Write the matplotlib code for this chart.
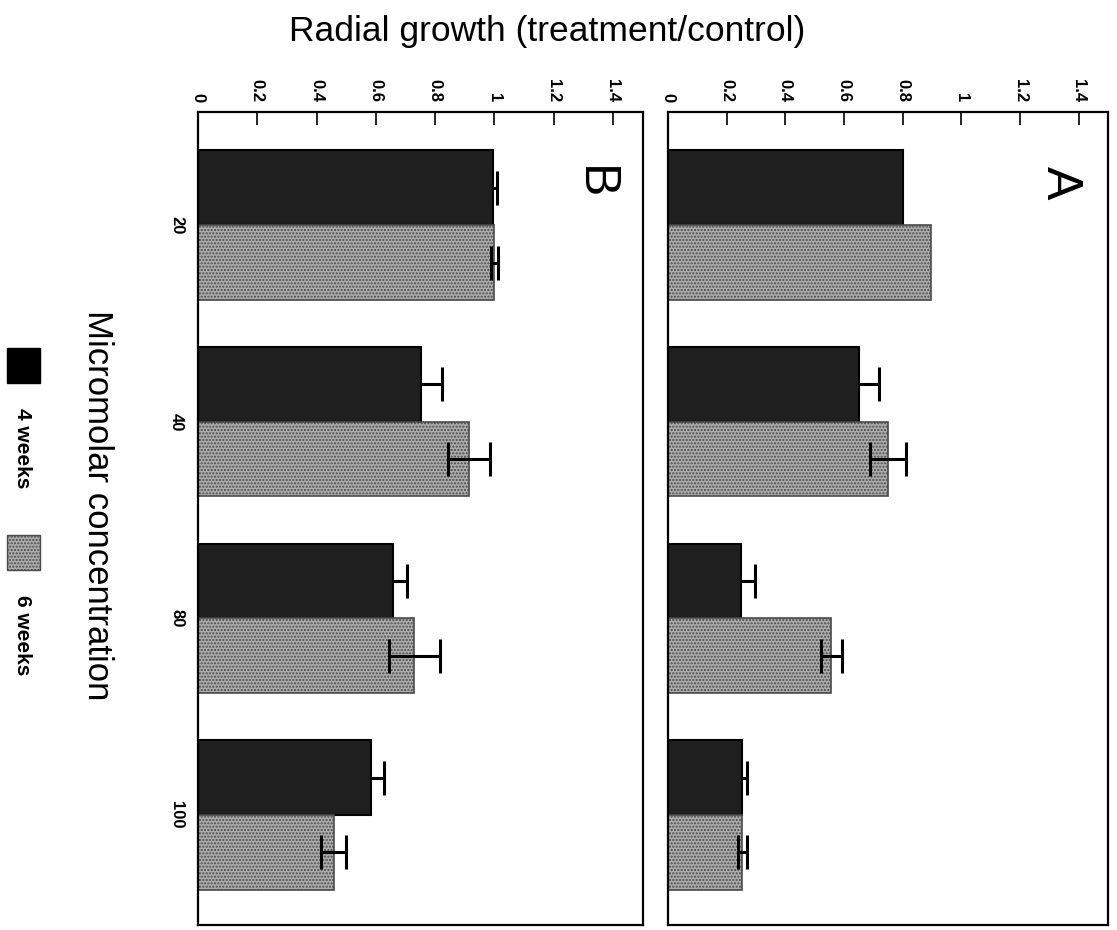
import numpy as np
import matplotlib
matplotlib.use("Agg")
import matplotlib.pyplot as plt
from matplotlib.patches import Rectangle

plt.rcParams['font.family'] = ['Liberation Sans', 'DejaVu Sans']

# concentrations (micromolar)
conc = ["20", "40", "80", "100"]

# panel A
a_4wk = [0.80, 0.652, 0.25, 0.254]
a_4wk_err = [0.0, 0.068, 0.048, 0.014]
a_6wk = [0.895, 0.75, 0.557, 0.254]
a_6wk_err = [0.0, 0.063, 0.036, 0.014]

# panel B
b_4wk = [0.994, 0.753, 0.658, 0.583]
b_4wk_err = [0.015, 0.069, 0.048, 0.043]
b_6wk = [1.0, 0.915, 0.73, 0.458]
b_6wk_err = [0.011, 0.07, 0.086, 0.042]

ticks = [0, 0.2, 0.4, 0.6, 0.8, 1, 1.2, 1.4]
tick_labels = ["0", "0.2", "0.4", "0.6", "0.8", "1", "1.2", "1.4"]

dark = "#1f1f1f"
light = "#acacac"
bh = 0.38

fig = plt.figure(figsize=(11.17, 9.30), dpi=100)
axA = fig.add_axes([0.598, 0.0054, 0.394, 0.874])
axB = fig.add_axes([0.1773, 0.0054, 0.398, 0.874])


def errs(ax, vals, err, ypos, z):
    vals = np.array(vals)
    err = np.array(err)
    keep = err > 0
    ax.errorbar(vals[keep], ypos[keep], xerr=err[keep], fmt="none", ecolor="black",
                elinewidth=2.2, capsize=12, capthick=2.2, zorder=z)


def panel(ax, v4, e4, v6, e6, letter, show_cats):
    y = np.arange(len(conc))
    ax.barh(y - bh / 2, v4, height=bh, color=dark, edgecolor="black",
            linewidth=1.5, zorder=2)
    ax.barh(y + bh / 2, v6, height=bh, color=light, edgecolor="#4a4a4a",
            linewidth=1.2, hatch=".....", zorder=2)
    # the part inside the dark bar is hidden, as in the print
    errs(ax, v4, e4, y - bh / 2, 1.5)
    errs(ax, v6, e6, y + bh / 2, 3)
    ax.set_xlim(0, 1.5)
    ax.set_ylim(3.56, -0.575)
    ax.xaxis.tick_top()
    ax.set_xticks(ticks)
    ax.set_xticklabels(tick_labels, rotation=-90, fontsize=12, fontweight="bold")
    ax.tick_params(axis="x", direction="in", length=9, width=1.2, pad=7)
    ax.set_yticks(y)
    if show_cats:
        ax.set_yticklabels(conc, rotation=-90, fontsize=12, fontweight="bold",
                           va="center")
    else:
        ax.set_yticklabels([])
    ax.tick_params(axis="y", length=0, pad=10)
    for s in ax.spines.values():
        s.set_linewidth(1.6)
    ax.text(0.89, 0.913, letter, transform=ax.transAxes, rotation=-90,
            fontsize=36, ha="center", va="center")


panel(axA, a_4wk, a_4wk_err, a_6wk, a_6wk_err, "A", False)
panel(axB, b_4wk, b_4wk_err, b_6wk, b_6wk_err, "B", True)

fig.text(0.49, 0.966, "Radial growth (treatment/control)", fontsize=25.5,
         ha="center", va="center")
fig.text(0.087, 0.457, "Micromolar concentration", fontsize=25, rotation=-90,
         ha="center", va="center")

# legend, drawn rotated like the rest of the figure
fig.patches.append(Rectangle((0.0063, 0.588), 0.0295, 0.0376, transform=fig.transFigure,
                             facecolor="black", edgecolor="black"))
fig.patches.append(Rectangle((0.0063, 0.387), 0.0295, 0.0376, transform=fig.transFigure,
                             facecolor=light, edgecolor="#4a4a4a", hatch="....."))
fig.text(0.0197, 0.518, "4 weeks", fontsize=15, fontweight="bold", rotation=-90,
         ha="center", va="center")
fig.text(0.0197, 0.317, "6 weeks", fontsize=15, fontweight="bold", rotation=-90,
         ha="center", va="center")

fig.savefig("out.png", dpi=100)
